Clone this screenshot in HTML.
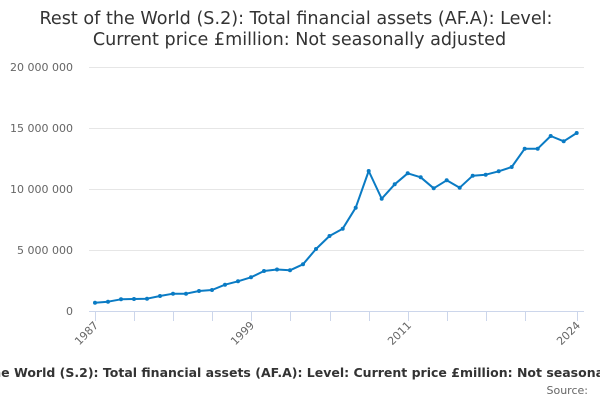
<!DOCTYPE html>
<html>
<head>
<meta charset="utf-8">
<style>
html,body{margin:0;padding:0;background:#fff;}
svg{display:block;}
text{font-family:"DejaVu Sans","Liberation Sans",sans-serif;}
</style>
</head>
<body>
<svg width="600" height="400" viewBox="0 0 600 400" xmlns="http://www.w3.org/2000/svg">
<rect width="600" height="400" fill="#fff"/>
<!-- Title -->
<text x="296" y="24" font-size="17.6" fill="#333" text-anchor="middle">Rest of the World (S.2): Total financial assets (AF.A): Level:</text>
<text x="299.5" y="45" font-size="17.6" fill="#333" text-anchor="middle">Current price £million: Not seasonally adjusted</text>

<!-- Gridlines -->
<g stroke="#e6e6e6" stroke-width="1">
<line x1="89" y1="67.5" x2="584" y2="67.5"/>
<line x1="89" y1="128.5" x2="584" y2="128.5"/>
<line x1="89" y1="189.5" x2="584" y2="189.5"/>
<line x1="89" y1="250.5" x2="584" y2="250.5"/>
</g>
<!-- Axis -->
<line x1="89" y1="311.5" x2="584" y2="311.5" stroke="#ccd6eb" stroke-width="1"/>
<g stroke="#ccd6eb" stroke-width="1">
<line x1="95.5" y1="311" x2="95.5" y2="321"/>
<line x1="134.5" y1="311" x2="134.5" y2="321"/>
<line x1="173.5" y1="311" x2="173.5" y2="321"/>
<line x1="212.5" y1="311" x2="212.5" y2="321"/>
<line x1="251.5" y1="311" x2="251.5" y2="321"/>
<line x1="290.5" y1="311" x2="290.5" y2="321"/>
<line x1="330.5" y1="311" x2="330.5" y2="321"/>
<line x1="369.5" y1="311" x2="369.5" y2="321"/>
<line x1="408.5" y1="311" x2="408.5" y2="321"/>
<line x1="447.5" y1="311" x2="447.5" y2="321"/>
<line x1="486.5" y1="311" x2="486.5" y2="321"/>
<line x1="525.5" y1="311" x2="525.5" y2="321"/>
<line x1="577.5" y1="311" x2="577.5" y2="321"/>
</g>

<!-- Y labels -->
<g font-size="11" fill="#666" text-anchor="end">
<text x="73" y="71">20 000 000</text>
<text x="73" y="132">15 000 000</text>
<text x="73" y="193">10 000 000</text>
<text x="73" y="254">5 000 000</text>
<text x="73" y="315">0</text>
</g>

<!-- X labels -->
<g font-size="11" fill="#666" text-anchor="end">
<text transform="translate(99,326) rotate(-45)">1987</text>
<text transform="translate(255,326) rotate(-45)">1999</text>
<text transform="translate(412,326) rotate(-45)">2011</text>
<text transform="translate(581,326) rotate(-45)">2024</text>
</g>

<!-- Series -->
<polyline fill="none" stroke="#0a7bc4" stroke-width="2" stroke-linejoin="round" stroke-linecap="round"
points="95,302.7 108,301.7 121,299.3 134,299 147,298.7 160,296 173,293.7 186,293.7 199,291 212,290 225,284.7 238,281.3 251,277.3 264,271 277,269.5 290,270.3 303,264.3 316,249 329.5,236 342.7,228.7 355.7,207.7 368.7,171 381.7,198.7 394.7,184.3 407.7,173.3 420.7,177.3 433.7,188.3 446.7,180.3 459.7,187.7 472.7,175.7 485.7,174.7 498.7,171.3 511.7,167 524.7,148.7 537.7,148.7 550.7,136 563.7,141.3 576.7,133"/>
<g fill="#0a7bc4">
<circle cx="95" cy="302.7" r="2"/><circle cx="108" cy="301.7" r="2"/><circle cx="121" cy="299.3" r="2"/><circle cx="134" cy="299" r="2"/><circle cx="147" cy="298.7" r="2"/><circle cx="160" cy="296" r="2"/><circle cx="173" cy="293.7" r="2"/><circle cx="186" cy="293.7" r="2"/><circle cx="199" cy="291" r="2"/><circle cx="212" cy="290" r="2"/><circle cx="225" cy="284.7" r="2"/><circle cx="238" cy="281.3" r="2"/><circle cx="251" cy="277.3" r="2"/><circle cx="264" cy="271" r="2"/><circle cx="277" cy="269.5" r="2"/><circle cx="290" cy="270.3" r="2"/><circle cx="303" cy="264.3" r="2"/><circle cx="316" cy="249" r="2"/><circle cx="329.5" cy="236" r="2"/><circle cx="342.7" cy="228.7" r="2"/><circle cx="355.7" cy="207.7" r="2"/><circle cx="368.7" cy="171" r="2"/><circle cx="381.7" cy="198.7" r="2"/><circle cx="394.7" cy="184.3" r="2"/><circle cx="407.7" cy="173.3" r="2"/><circle cx="420.7" cy="177.3" r="2"/><circle cx="433.7" cy="188.3" r="2"/><circle cx="446.7" cy="180.3" r="2"/><circle cx="459.7" cy="187.7" r="2"/><circle cx="472.7" cy="175.7" r="2"/><circle cx="485.7" cy="174.7" r="2"/><circle cx="498.7" cy="171.3" r="2"/><circle cx="511.7" cy="167" r="2"/><circle cx="524.7" cy="148.7" r="2"/><circle cx="537.7" cy="148.7" r="2"/><circle cx="550.7" cy="136" r="2"/><circle cx="563.7" cy="141.3" r="2"/><circle cx="576.7" cy="133" r="2"/>
</g>

<!-- Bottom caption -->
<g font-size="12.5" font-weight="bold" fill="#333">
<text x="14" y="377" text-anchor="end">Rest of the&#160;</text>
<text x="14" y="377">World (S.2): Total financial assets (AF.A): Level: Current price £million: Not seasonally adjusted</text>
</g>
<text x="588" y="394" font-size="11" fill="#666" text-anchor="end">Source:</text>
</svg>
</body>
</html>
